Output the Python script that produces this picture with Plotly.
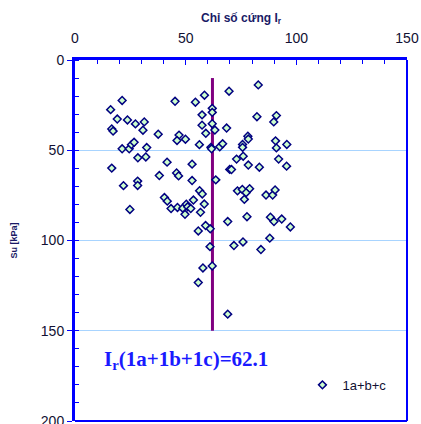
import plotly.graph_objects as go

# Stiffness index I_r versus undrained shear strength Su for layers 1a+b+c
ir_values = [
    16.1, 21.3, 19.1, 23.7, 27.3, 31.3, 16.6, 17.2, 30.7, 37.6,
    45.2, 54.4, 58.5, 69.6, 82.8, 62.0, 62.0, 57.4, 82.2, 91.0,
    89.8, 57.4, 62.0, 63.2, 68.5, 59.1, 47.0, 46.1, 49.9, 78.1,
    78.3, 75.7, 75.7, 90.6, 91.0, 95.7, 56.2, 61.4, 61.7, 65.4,
    66.7, 21.3, 24.5, 25.5, 26.7, 32.4, 28.4, 32.0, 41.6, 52.9,
    16.6, 38.1, 45.9, 46.8, 69.9, 70.7, 73.0, 76.0, 78.3, 83.3,
    92.0, 95.6, 21.9, 28.3, 28.3, 52.9, 63.6, 56.3, 57.5, 73.4,
    75.6, 78.9, 77.3, 76.5, 86.3, 89.3, 90.4, 40.4, 41.7, 53.5,
    24.8, 43.4, 46.3, 48.7, 50.3, 50.9, 52.3, 49.7, 56.7, 58.4,
    69.0, 77.7, 88.3, 89.9, 93.4, 97.3, 59.0, 61.1, 55.7, 88.0,
    61.0, 71.8, 75.9, 84.0, 57.8, 62.0, 55.7, 69.0,
]
su_values = [
    27.5, 22.4, 32.7, 33.2, 35.4, 34.3, 38.2, 39.4, 38.9, 41.1,
    22.9, 23.4, 19.5, 17.3, 13.8, 26.8, 29.0, 30.4, 31.4, 30.8,
    34.3, 36.1, 35.3, 38.8, 37.7, 40.6, 41.6, 44.6, 43.9, 42.2,
    43.8, 46.8, 48.4, 44.8, 48.7, 46.8, 46.9, 48.4, 49.2, 48.1,
    46.4, 49.2, 49.2, 46.9, 45.6, 48.5, 54.2, 53.7, 56.6, 57.7,
    59.9, 64.0, 62.6, 64.2, 60.6, 60.7, 54.9, 53.3, 58.2, 59.4,
    54.9, 58.8, 69.6, 67.1, 69.5, 66.8, 66.4, 72.4, 74.2, 72.5,
    71.7, 71.3, 73.5, 77.2, 74.8, 74.8, 72.0, 76.2, 78.2, 77.6,
    82.8, 82.3, 81.7, 82.1, 79.9, 81.3, 82.3, 85.5, 84.4, 79.8,
    89.5, 86.8, 87.1, 89.5, 88.1, 92.5, 91.7, 93.5, 94.7, 98.7,
    103.4, 102.8, 100.8, 105.0, 115.2, 114.1, 123.3, 140.8,
]

# Mean stiffness index and the depth span of the mean line
ir_mean = 62.1
mean_line_su = [10, 150]

x_ticks = [0, 50, 100, 150]
y_ticks = [0, 50, 100, 150, 200]

navy = "#1a1a66"
blue = "#0000ff"

fig = go.Figure()

fig.add_trace(go.Scatter(
    x=[ir_mean, ir_mean], y=mean_line_su,
    mode="lines", line=dict(color="#800080", width=3),
    showlegend=False, hoverinfo="skip",
))

fig.add_trace(go.Scatter(
    x=ir_values, y=su_values, mode="markers", name="1a+b+c",
    marker=dict(symbol="diamond", size=6, color="#ccffcc",
                line=dict(color="#000080", width=1.5)),
))

fig.update_layout(
    width=421, height=424,
    margin=dict(l=75, r=14, t=60, b=3),
    paper_bgcolor="white", plot_bgcolor="white",
    font=dict(family="Liberation Sans, Arial", color=navy),
    showlegend=True,
    legend=dict(x=0.685, y=0.1, xanchor="left", yanchor="middle",
                bgcolor="rgba(0,0,0,0)", font=dict(size=13, color="#111133"),
                itemsizing="trace", itemwidth=30),
    xaxis=dict(
        side="top", range=[0, 150], tickvals=x_ticks, automargin=False,
        showgrid=False, zeroline=False,
        showline=True, linecolor=blue, linewidth=3,
        ticks="inside", ticklen=5, tickcolor=blue, tickwidth=1,
        minor=dict(dtick=10, ticks="inside", ticklen=4, tickcolor=blue, showgrid=False),
        tickfont=dict(size=14, color="#111133"),
        ticklabelstandoff=8, ticklabeloverflow="allow",
        title=dict(text="<b>Chỉ số cứng I<sub>r</sub></b>", font=dict(size=12, color=navy), standoff=6),
    ),
    yaxis=dict(
        range=[200, 0], tickvals=y_ticks, automargin=False,
        showgrid=True, gridcolor="#a8d4ff", gridwidth=1,
        zeroline=False,
        showline=True, linecolor=blue, linewidth=3,
        ticks="outside", ticklen=5, tickcolor=blue, tickwidth=1,
        minor=dict(dtick=10, ticks="inside", ticklen=4, tickcolor=blue, showgrid=False),
        tickfont=dict(size=14, color="#111133"),
        ticklabeloverflow="allow",
        title=dict(text="<b>Su [kPa]</b>", font=dict(size=9, color=navy), standoff=22),
    ),
    shapes=[
        dict(type="line", xref="paper", yref="paper", x0=1, x1=1, y0=0, y1=1,
             line=dict(color=blue, width=2)),
        dict(type="line", xref="paper", yref="paper", x0=0, x1=1, y0=0, y1=0,
             line=dict(color=blue, width=2)),
    ],
    annotations=[
        dict(text="<b>I<sub>r</sub>(1a+1b+1c)=62.1</b>", xref="paper", yref="paper",
             x=0.08, y=0.17, xanchor="left", yanchor="middle", showarrow=False,
             font=dict(family="Liberation Serif, Times New Roman", size=21, color="#1a1aff")),
    ],
)

fig.write_html("out.html")
